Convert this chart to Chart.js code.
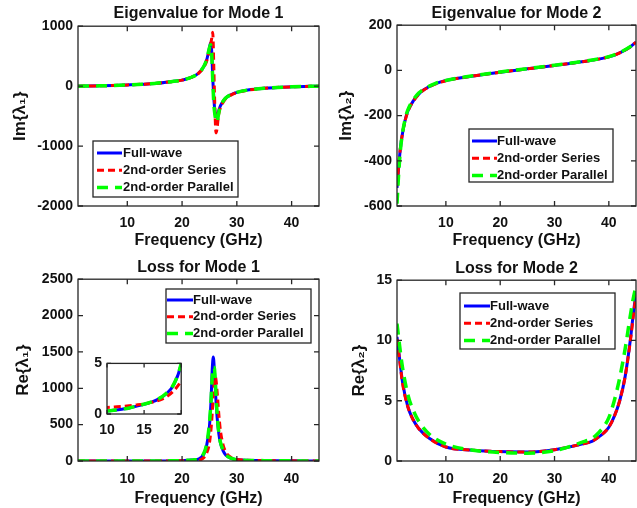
<!DOCTYPE html>
<html>
<head>
<meta charset="utf-8">
<script src="https://cdn.jsdelivr.net/npm/chart.js@4.4.1/dist/chart.umd.min.js"></script>
<style>
  body { margin: 0; background: #fff; }
  #fig { position: relative; width: 637px; height: 508px; overflow: hidden; background: #fff; }
  #fig canvas { position: absolute; }
</style>
</head>
<body>
<div id="fig">
  <canvas id="imMode1" width="320" height="250" style="left:0;top:0"></canvas>
  <canvas id="imMode2" width="317" height="250" style="left:320px;top:0"></canvas>
  <canvas id="reMode1" width="320" height="258" style="left:0;top:250px"></canvas>
  <canvas id="reMode2" width="317" height="258" style="left:320px;top:250px"></canvas>
  <canvas id="reMode1Inset" width="112" height="88" style="left:85px;top:350px"></canvas>
</div>
<script>
// ---- data ----
const labels = ['Full-wave', '2nd-order Series', '2nd-order Parallel'];
const freqTicks = [10, 20, 30, 40];

// Im{lambda_1}
const freqIm1 = [1, 5, 10, 15, 18, 20, 21, 22, 23, 24, 24.5, 25, 25.2, 25.4, 25.6, 25.8, 26, 26.2, 26.4, 26.6, 26.8, 27, 27.5, 28, 29, 30, 32, 35, 40, 45];
const imM1Full = [0, 5, 20, 45, 75, 100, 125, 160, 215, 330, 440, 640, 720, 600, 150, -200, -420, -510, -500, -440, -380, -330, -250, -195, -140, -105, -65, -35, -12, 0];
const imM1Series = [0, 5, 20, 45, 75, 100, 125, 160, 215, 320, 420, 600, 690, 790, 900, 300, -400, -780, -700, -520, -420, -360, -270, -205, -145, -108, -67, -36, -12, 0];
const imM1Parallel = [0, 5, 20, 45, 75, 100, 125, 160, 215, 335, 450, 640, 690, 560, 100, -300, -480, -570, -600, -500, -400, -330, -250, -195, -140, -105, -65, -35, -12, 0];
const imM1Ticks = [-2000, -1000, 0, 1000];

// Im{lambda_2}
const freqIm2 = [1, 1.3, 1.6, 2, 2.5, 3, 4, 5, 6, 8, 10, 15, 20, 25, 30, 35, 40, 42, 44, 45];
const imM2Full = [-520, -430, -350, -280, -220, -180, -135, -105, -85, -60, -45, -25, -8, 7, 22, 38, 60, 78, 105, 125];
const imM2Series = [-510, -425, -348, -280, -222, -182, -137, -106, -86, -61, -46, -25, -8, 7, 22, 38, 60, 78, 105, 125];
const imM2Parallel = [-590, -460, -360, -280, -215, -175, -130, -100, -82, -58, -44, -24, -7, 8, 23, 39, 61, 79, 106, 127];
const imM2Ticks = [-600, -400, -200, 0, 200];

// Re{lambda_1}
const freqRe1 = [1, 5, 10, 11, 12, 13, 14, 15, 16, 17, 18, 19, 20, 21, 22, 23, 24, 24.5, 25, 25.3, 25.5, 25.7, 25.9, 26.1, 26.4, 26.7, 27, 27.5, 28, 29, 30, 35, 40, 45];
const reM1Full = [0.1, 0.15, 0.3, 0.38, 0.48, 0.6, 0.78, 0.97, 1.18, 1.5, 2.0, 2.9, 4.9, 9, 15, 25, 100, 220, 480, 850, 1250, 1430, 1250, 950, 600, 380, 250, 140, 80, 35, 18, 5, 2, 1];
const reM1Series = [0.3, 0.4, 0.65, 0.7, 0.75, 0.82, 0.9, 1.0, 1.15, 1.35, 1.7, 2.3, 3.3, 5, 8, 10, 50, 110, 250, 450, 650, 900, 1100, 1150, 950, 650, 420, 220, 120, 45, 20, 5, 2, 1];
const reM1Parallel = [0.1, 0.15, 0.3, 0.38, 0.48, 0.6, 0.78, 0.97, 1.2, 1.52, 2.05, 2.95, 5.0, 9, 15, 25, 110, 240, 520, 850, 1150, 1290, 1280, 1050, 650, 400, 260, 150, 85, 35, 18, 5, 2, 1];
const reM1Ticks = [0, 500, 1000, 1500, 2000, 2500];
const insetXTicks = [10, 15, 20];
const insetYTicks = [0, 5];

// Re{lambda_2}
const freqRe2 = [1, 1.5, 2, 3, 4, 5, 7, 10, 15, 20, 25, 30, 35, 37, 38, 39, 40, 41, 42, 43, 44, 44.5, 45];
const reM2Full = [10.3, 8.4, 6.6, 4.5, 3.4, 2.7, 1.86, 1.16, 0.9, 0.78, 0.75, 0.94, 1.4, 1.65, 1.95, 2.3, 2.8, 3.7, 5.0, 7.0, 10.2, 12.2, 14.0];
const reM2Series = [10.1, 8.3, 6.5, 4.5, 3.4, 2.7, 1.86, 1.16, 0.9, 0.78, 0.75, 0.94, 1.4, 1.65, 1.95, 2.3, 2.8, 3.7, 5.0, 7.0, 10.1, 12.0, 13.8];
const reM2Parallel = [11.4, 9.5, 7.8, 5.5, 4.2, 3.3, 2.2, 1.4, 0.9, 0.7, 0.65, 0.85, 1.55, 1.9, 2.3, 2.8, 3.6, 5.0, 6.9, 9.3, 12.2, 13.5, 14.5];
const reM2Ticks = [0, 5, 10, 15];

// ---- styling ----
const FONT = '"Liberation Sans", Arial, Helvetica, sans-serif';
const INK = '#111';
const lineStyles = [
  { borderColor: '#0000ff', borderWidth: 3, borderDash: [] },
  { borderColor: '#ff0000', borderWidth: 3, borderDash: [7, 4] },
  { borderColor: '#00ff00', borderWidth: 3.5, borderDash: [11, 7] },
];

function lines(xs, ysList) {
  return ysList.map((ys, i) => ({
    label: labels[i],
    ...lineStyles[i],
    data: xs.map((x, j) => ({ x, y: ys[j] })),
    pointRadius: 0,
    fill: false,
    order: 3 - i,
    cubicInterpolationMode: 'monotone',
  }));
}

// MATLAB-like box with inward ticks on all four sides
const boxAxes = {
  id: 'boxAxes',
  afterDatasetsDraw(chart, args, opts) {
    const { ctx, chartArea: a, scales: { x, y } } = chart;
    const t = opts.tick || 5;
    ctx.save();
    ctx.strokeStyle = '#262626';
    ctx.lineWidth = 1.3;
    ctx.strokeRect(a.left, a.top, a.right - a.left, a.bottom - a.top);
    ctx.beginPath();
    x.ticks.forEach(tk => {
      const px = x.getPixelForValue(tk.value);
      ctx.moveTo(px, a.bottom); ctx.lineTo(px, a.bottom - t);
      ctx.moveTo(px, a.top); ctx.lineTo(px, a.top + t);
    });
    y.ticks.forEach(tk => {
      const py = y.getPixelForValue(tk.value);
      ctx.moveTo(a.left, py); ctx.lineTo(a.left + t, py);
      ctx.moveTo(a.right, py); ctx.lineTo(a.right - t, py);
    });
    ctx.stroke();
    ctx.restore();
  }
};

// boxed legend in the chart's own coordinates
const boxLegend = {
  id: 'boxLegend',
  afterDraw(chart, args, o) {
    if (!o || !o.box) return;
    const ctx = chart.ctx;
    const [bx, by, bw, bh] = o.box;
    ctx.save();
    ctx.fillStyle = '#fff';
    ctx.fillRect(bx, by, bw, bh);
    ctx.strokeStyle = '#262626';
    ctx.lineWidth = 1.3;
    ctx.strokeRect(bx, by, bw, bh);
    ctx.font = 'bold 13px ' + FONT;
    ctx.textBaseline = 'middle';
    chart.data.datasets.forEach((ds, i) => {
      const yy = by + o.rowTop + i * o.rowGap;
      ctx.beginPath();
      ctx.setLineDash(ds.borderDash || []);
      ctx.strokeStyle = ds.borderColor;
      ctx.lineWidth = ds.borderWidth;
      ctx.moveTo(bx + o.lineX0, yy);
      ctx.lineTo(bx + o.lineX1, yy);
      ctx.stroke();
      ctx.setLineDash([]);
      ctx.fillStyle = INK;
      ctx.fillText(ds.label, bx + o.textX, yy);
    });
    ctx.restore();
  }
};

function makeChart(id, c) {
  return new Chart(document.getElementById(id), {
    type: 'line',
    data: { datasets: c.datasets },
    options: {
      responsive: false,
      animation: false,
      events: [],
      layout: { padding: c.pad },
      plugins: {
        legend: { display: false },
        tooltip: { enabled: false },
        title: {
          display: !!c.title,
          text: c.title,
          fullSize: false,
          color: INK,
          font: { family: FONT, size: 16, weight: 'bold' },
          padding: c.titlePad,
        },
        boxAxes: { tick: c.tick || 5 },
        boxLegend: c.legend,
      },
      scales: {
        x: {
          type: 'linear',
          min: c.xMin, max: c.xMax,
          afterBuildTicks: s => { s.ticks = c.xTicks.map(v => ({ value: v })); },
          afterFit: s => { s.height = c.xH; },
          grid: { display: false, drawTicks: false },
          border: { display: false },
          ticks: { color: INK, padding: c.xTickPad, maxRotation: 0, font: { family: FONT, size: 14, weight: 'bold' }, callback: v => String(v) },
          title: { display: !!c.xTitle, text: c.xTitle, color: INK, padding: { top: 0, bottom: 0 }, font: { family: FONT, size: 16, weight: 'bold' } },
        },
        y: {
          type: 'linear',
          min: c.yMin, max: c.yMax,
          afterBuildTicks: s => { s.ticks = c.yTicks.map(v => ({ value: v })); },
          afterFit: s => { s.width = c.yW; },
          grid: { display: false, drawTicks: false },
          border: { display: false },
          ticks: { color: INK, padding: 5, font: { family: FONT, size: 14, weight: 'bold' }, callback: v => String(v) },
          title: { display: !!c.yTitle, text: c.yTitle, color: INK, padding: { top: c.yTitlePad, bottom: 0 }, font: { family: FONT, size: 17, weight: 'bold' } },
        },
      },
    },
    plugins: [boxAxes, boxLegend],
  });
}

makeChart('imMode1', {
  title: 'Eigenvalue for Mode 1', titlePad: { top: 4, bottom: 3 },
  datasets: lines(freqIm1, [imM1Full, imM1Series, imM1Parallel]),
  pad: { left: 0, right: 1, top: 0, bottom: 0 },
  xMin: 1, xMax: 45, xTicks: freqTicks, xH: 44, xTickPad: 9, xTitle: 'Frequency (GHz)',
  yMin: -2000, yMax: 1000, yTicks: imM1Ticks, yW: 78, yTitle: 'Im{λ₁}', yTitlePad: 10,
  legend: { box: [93, 141, 145, 56], rowTop: 12, rowGap: 17.3, lineX0: 4, lineX1: 29, textX: 30 },
});

makeChart('imMode2', {
  title: 'Eigenvalue for Mode 2', titlePad: { top: 4, bottom: 2 },
  datasets: lines(freqIm2, [imM2Full, imM2Series, imM2Parallel]),
  pad: { left: 0, right: 1, top: 0, bottom: 0 },
  xMin: 1, xMax: 45, xTicks: freqTicks, xH: 44, xTickPad: 9, xTitle: 'Frequency (GHz)',
  yMin: -600, yMax: 200, yTicks: imM2Ticks, yW: 77, yTitle: 'Im{λ₂}', yTitlePad: 16,
  legend: { box: [149, 129, 144, 53], rowTop: 12, rowGap: 17.3, lineX0: 3, lineX1: 28, textX: 28 },
});

makeChart('reMode1', {
  title: 'Loss for Mode 1', titlePad: { top: 8, bottom: 2 },
  datasets: lines(freqRe1, [reM1Full, reM1Series, reM1Parallel]),
  pad: { left: 0, right: 1, top: 0, bottom: 0 },
  xMin: 1, xMax: 45, xTicks: freqTicks, xH: 47, xTickPad: 10, xTitle: 'Frequency (GHz)',
  yMin: 0, yMax: 2500, yTicks: reM1Ticks, yW: 78, yTitle: 'Re{λ₁}', yTitlePad: 13,
  legend: { box: [166, 39, 145, 54], rowTop: 11, rowGap: 16.7, lineX0: 1, lineX1: 27, textX: 27 },
});

makeChart('reMode2', {
  title: 'Loss for Mode 2', titlePad: { top: 9, bottom: 2 },
  datasets: lines(freqRe2, [reM2Full, reM2Series, reM2Parallel]),
  pad: { left: 0, right: 1, top: 0, bottom: 0 },
  xMin: 1, xMax: 45, xTicks: freqTicks, xH: 47, xTickPad: 10, xTitle: 'Frequency (GHz)',
  yMin: 0, yMax: 15, yTicks: reM2Ticks, yW: 77, yTitle: 'Re{λ₂}', yTitlePad: 29,
  legend: { box: [140, 43, 155, 56], rowTop: 13, rowGap: 17.3, lineX0: 4, lineX1: 30, textX: 30 },
});

// inset: zoom of Re{lambda_1} between 10 and 20 GHz
makeChart('reMode1Inset', {
  title: '',
  datasets: lines(freqRe1, [reM1Full, reM1Series, reM1Parallel]),
  pad: { left: 0, right: 6, top: 11, bottom: 0 },
  xMin: 10, xMax: 20, xTicks: insetXTicks, xH: 24, xTickPad: 8, xTitle: '',
  yMin: 0, yMax: 5, yTicks: insetYTicks, yW: 22, yTitle: '', yTitlePad: 0,
  tick: 4,
});
</script>
</body>
</html>
